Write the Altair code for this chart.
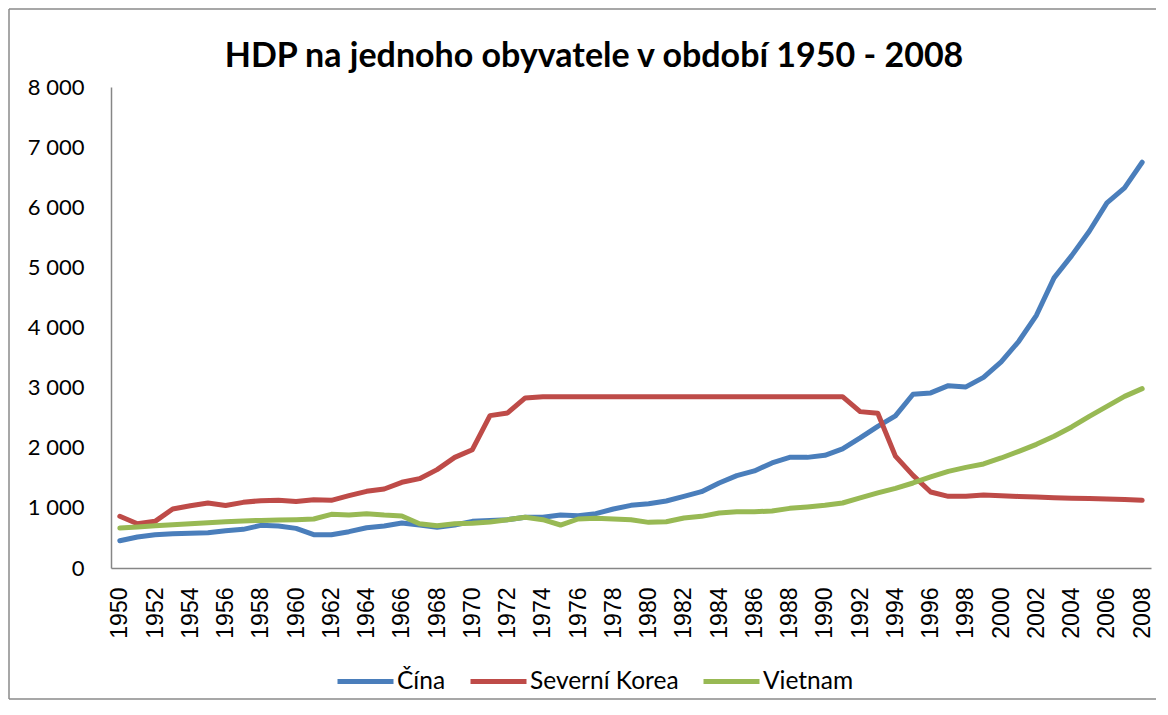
import altair as alt
import pandas as pd

years = list(range(1950, 2009))

cina = [454, 516, 554, 571, 576, 587, 620, 643, 709, 699,
        659, 554, 554, 604, 670, 700, 748, 715, 676, 715,
        776, 792, 804, 843, 843, 882, 870, 903, 981, 1042,
        1070, 1115, 1192, 1270, 1414, 1536, 1614, 1747, 1840, 1840,
        1874, 1980, 2163, 2356, 2530, 2890, 2912, 3033, 3012, 3171,
        3428, 3771, 4203, 4825, 5196, 5601, 6073, 6323, 6749]

korea = [860, 737, 776, 981, 1036, 1081, 1040, 1092, 1120, 1125,
         1105, 1136, 1125, 1203, 1275, 1314, 1425, 1486, 1636, 1840,
         1968, 2534, 2579, 2829, 2850, 2850, 2850, 2850, 2850, 2850,
         2850, 2850, 2850, 2850, 2850, 2850, 2850, 2850, 2850, 2850,
         2850, 2850, 2601, 2573, 1860, 1540, 1264, 1192, 1195, 1214,
         1203, 1190, 1180, 1170, 1160, 1155, 1148, 1140, 1125]

vietnam = [665, 682, 704, 720, 737, 754, 770, 782, 792, 799,
           804, 815, 892, 882, 903, 880, 865, 737, 704, 737,
           743, 765, 804, 843, 804, 715, 815, 826, 815, 804,
           759, 770, 832, 859, 915, 937, 937, 948, 992, 1015,
           1042, 1081, 1165, 1248, 1325, 1414, 1514, 1608, 1674, 1730,
           1830, 1941, 2057, 2190, 2346, 2523, 2689, 2855, 2983]

series_names = ["Čína", "Severní Korea", "Vietnam"]
series_colors = ["#4A7EBB", "#BE4B48", "#98B954"]
x_label_years = [y for y in years if y % 2 == 0]
y_ticks = [0, 1000, 2000, 3000, 4000, 5000, 6000, 7000, 8000]
title_text = "HDP na jednoho obyvatele v období 1950 - 2008"

rows = []
for name, vals in zip(series_names, [cina, korea, vietnam]):
    for yr, v in zip(years, vals):
        rows.append({"rok": yr, "hdp": v, "zeme": name})
df = pd.DataFrame(rows)

W, H = 1040, 481
frame_color = "#8A8A8A"

lines = alt.Chart(df).mark_line(
    strokeWidth=5, strokeCap="round", strokeJoin="round"
).encode(
    x=alt.X("rok:O",
            scale=alt.Scale(type="point", padding=0.5),
            axis=alt.Axis(title=None, values=x_label_years, labelAngle=-90,
                          labelFont="Liberation Sans", labelFontSize=23,
                          labelColor="#000000", labelPadding=19,
                          ticks=False, tickSize=0, grid=False,
                          domainColor="#868686", domainWidth=1.5)),
    y=alt.Y("hdp:Q",
            scale=alt.Scale(domain=[0, 8000], nice=False),
            axis=alt.Axis(title=None, values=y_ticks,
                          labelExpr="replace(format(datum.value, ','), ',', ' ')",
                          labelFont="Lato", labelFontSize=22,
                          labelColor="#000000", labelPadding=27,
                          ticks=False, tickSize=0, grid=False,
                          domainColor="#868686", domainWidth=1.5)),
    color=alt.Color("zeme:N",
                    scale=alt.Scale(domain=series_names, range=series_colors),
                    legend=alt.Legend(title=None, orient="none",
                                      direction="horizontal",
                                      legendX=224, legendY=564,
                                      symbolType="stroke", symbolSize=3136,
                                      symbolStrokeWidth=5,
                                      labelFont="Lato", labelFontSize=24.5,
                                      labelColor="#000000", labelOffset=1,
                                      columnPadding=14)),
)

one = pd.DataFrame({"k": [0]})
left_rule = alt.Chart(one).mark_rule(color=frame_color, strokeWidth=1.5).encode(
    x=alt.value(-102), y=alt.value(-78), y2=alt.value(612))
top_rule = alt.Chart(one).mark_rule(color=frame_color, strokeWidth=1.5).encode(
    x=alt.value(-102), x2=alt.value(1045), y=alt.value(-78))
bottom_rule = alt.Chart(one).mark_rule(color=frame_color, strokeWidth=1.5).encode(
    x=alt.value(-102), x2=alt.value(1045), y=alt.value(612))

title = alt.Chart(pd.DataFrame({"t": [title_text]})).mark_text(
    font="Lato", fontSize=34, fontWeight="bold", color="#000000",
    align="center", baseline="alphabetic"
).encode(text="t:N", x=alt.value(483), y=alt.value(-20))

chart = alt.layer(left_rule, top_rule, bottom_rule, title, lines).properties(
    width=W, height=H,
    padding=0,
).configure_view(stroke=None)

chart.save("out.html", embed_options={"renderer": "svg", "actions": False})
